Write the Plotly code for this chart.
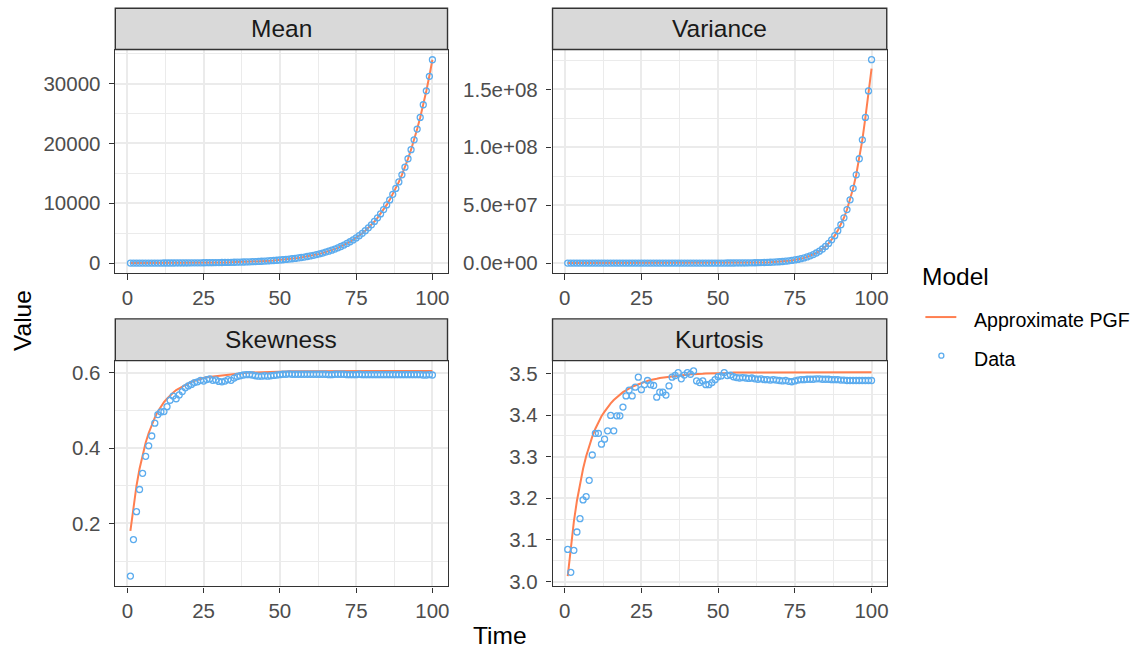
import plotly.graph_objects as go

W, H = 1144, 652

time = list(range(1, 101))

mean_model = [8.8, 9.57, 10.40, 11.30, 12.29, 13.35, 14.52, 15.78, 17.15, 18.64,
              20.27, 22.03, 23.95, 26.03, 28.30, 30.76, 33.44, 36.35, 39.51, 42.95,
              46.68, 50.74, 55.16, 59.95, 65.17, 70.84, 77.00, 83.70, 90.99, 98.90,
              107.5, 116.9, 127.0, 138.1, 150.1, 163.1, 177.3, 192.8, 209.5, 227.8,
              247.6, 269.1, 292.6, 318.0, 345.7, 375.7, 408.4, 444.0, 482.6, 524.6,
              570.2, 619.8, 673.7, 732.3, 796.1, 865.3, 940.6, 1022, 1111, 1208,
              1313, 1427, 1551, 1686, 1833, 1993, 2166, 2354, 2559, 2782,
              3024, 3287, 3573, 3884, 4222, 4589, 4988, 5422, 5894, 6407,
              6966, 7572, 8231, 8947, 9725, 10571, 11491, 12491, 13578, 14759,
              16043, 17439, 18956, 20605, 22398, 24346, 26465, 28767, 31270, 33990]

mean_data = [9, 10, 10, 11, 12, 13, 15, 16, 17, 19,
             20, 22, 24, 26, 28, 31, 33, 36, 40, 43,
             47, 51, 55, 60, 65, 71, 77, 84, 91, 99,
             108, 117, 127, 138, 150, 163, 177, 193, 210, 228,
             248, 269, 293, 318, 346, 376, 408, 444, 483, 525,
             570, 620, 674, 732, 796, 865, 941, 1022, 1111, 1208,
             1313, 1427, 1551, 1686, 1833, 1993, 2166, 2354, 2559, 2782,
             3024, 3287, 3573, 3884, 4222, 4589, 4988, 5422, 5894, 6407,
             6966, 7572, 8231, 8947, 9725, 10571, 11491, 12491, 13578, 14759,
             16043, 17439, 18956, 20605, 22398, 24346, 26465, 28790, 31210, 33980]

var_data = [11.77, 13.91, 16.43, 19.42, 22.94, 27.11, 32.03, 37.84, 44.71, 52.83,
            62.43, 73.77, 87.16, 102.98, 121.68, 143.78, 169.88, 200.73, 237.17, 280.24,
            331.2, 391.3, 462.4, 546.4, 645.5, 762.8, 901.2, 1064.9, 1258.2, 1486.7,
            1756.5, 2075.4, 2452.3, 2897.5, 3423.6, 4045.3, 4779.8, 5647.6, 6673.0, 7884.7,
            9317, 11009, 13007, 15369, 18160, 21457, 25353, 29956, 35395, 41822,
            49419, 58392, 68994, 81522, 96323, 113812, 134477, 158894, 187744, 221834,
            262130, 309726, 365962, 432417, 510922, 603697, 713305, 842818, 995841, 1176660,
            1.3904e6, 1.6429e6, 1.9412e6, 2.2936e6, 2.7101e6, 3.2021e6, 3.7835e6, 4.4705e6, 5.2822e6, 6.2413e6,
            7.375e6, 8.714e6, 1.0296e7, 1.2166e7, 1.4375e7, 1.6985e7, 2.0069e7, 2.3712e7, 2.8018e7, 3.3105e7,
            3.912e7, 4.622e7, 5.462e7, 6.453e7, 7.625e7, 9.009e7, 1.0645e8, 1.2578e8, 1.4862e8, 1.756e8]

var_model = [11.77, 13.91, 16.43, 19.42, 22.94, 27.11, 32.03, 37.84, 44.71, 52.83,
             62.43, 73.77, 87.16, 102.98, 121.68, 143.78, 169.88, 200.73, 237.17, 280.24,
             331.2, 391.3, 462.4, 546.4, 645.5, 762.8, 901.2, 1064.9, 1258.2, 1486.7,
             1756.5, 2075.4, 2452.3, 2897.5, 3423.6, 4045.3, 4779.8, 5647.6, 6673.0, 7884.7,
             9317, 11009, 13007, 15369, 18160, 21457, 25353, 29956, 35395, 41822,
             49419, 58392, 68994, 81522, 96323, 113812, 134477, 158894, 187744, 221834,
             262130, 309726, 365962, 432417, 510922, 603697, 713305, 842818, 995841, 1176660,
             1.3904e6, 1.6429e6, 1.9412e6, 2.2936e6, 2.7101e6, 3.2021e6, 3.7835e6, 4.4705e6, 5.2822e6, 6.2413e6,
             7.375e6, 8.714e6, 1.0296e7, 1.2166e7, 1.4375e7, 1.6985e7, 2.0069e7, 2.3712e7, 2.8018e7, 3.3105e7,
             3.912e7, 4.622e7, 5.462e7, 6.453e7, 7.625e7, 9.009e7, 1.0645e8, 1.2578e8, 1.470e8, 1.680e8]

skew_model = [0.180, 0.246, 0.300, 0.345, 0.383, 0.414, 0.440, 0.462, 0.481, 0.497,
              0.510, 0.522, 0.531, 0.540, 0.547, 0.554, 0.559, 0.564, 0.569, 0.572,
              0.576, 0.579, 0.581, 0.584, 0.586, 0.588, 0.589, 0.591, 0.592, 0.593,
              0.594, 0.595, 0.596, 0.597, 0.598, 0.5985, 0.599, 0.600, 0.600, 0.6006,
              0.601, 0.6013, 0.6017, 0.602, 0.6022, 0.6025, 0.6027, 0.6029, 0.6031, 0.6033,
              0.6034, 0.6036, 0.6037, 0.6038, 0.6039, 0.604, 0.6041, 0.6042, 0.6043, 0.6043,
              0.6044, 0.6044, 0.6045, 0.6045, 0.6046, 0.6046, 0.6046, 0.6047, 0.6047, 0.6047,
              0.6047, 0.6048, 0.6048, 0.6048, 0.6048, 0.6048, 0.6048, 0.6048, 0.6049, 0.6049,
              0.6049, 0.6049, 0.6049, 0.6049, 0.6049, 0.6049, 0.6049, 0.6049, 0.6049, 0.6049,
              0.6049, 0.6049, 0.6049, 0.6049, 0.6049, 0.6049, 0.6049, 0.6049, 0.6049, 0.6049]

skew_data = [0.060, 0.157, 0.231, 0.290, 0.333, 0.378, 0.406, 0.432, 0.466, 0.489,
             0.496, 0.497, 0.510, 0.527, 0.538, 0.531, 0.541, 0.550, 0.560, 0.565,
             0.569, 0.574, 0.576, 0.580, 0.578, 0.582, 0.584, 0.580, 0.581, 0.577,
             0.576, 0.578, 0.582, 0.580, 0.586, 0.590, 0.592, 0.594, 0.595, 0.595,
             0.594, 0.592, 0.591, 0.591, 0.592, 0.591, 0.592, 0.593, 0.594, 0.595,
             0.596, 0.596, 0.597, 0.596, 0.596, 0.596, 0.596, 0.596, 0.596, 0.596,
             0.596, 0.596, 0.596, 0.596, 0.596, 0.595, 0.595, 0.596, 0.596, 0.596,
             0.596, 0.595, 0.595, 0.595, 0.595, 0.596, 0.595, 0.595, 0.595, 0.595,
             0.595, 0.595, 0.595, 0.595, 0.595, 0.595, 0.595, 0.595, 0.595, 0.595,
             0.595, 0.595, 0.595, 0.595, 0.595, 0.595, 0.594, 0.594, 0.595, 0.594]

kurt_model = [3.013, 3.085, 3.144, 3.194, 3.236, 3.271, 3.301, 3.327, 3.348, 3.367,
              3.383, 3.397, 3.408, 3.419, 3.428, 3.436, 3.443, 3.449, 3.455, 3.459,
              3.464, 3.468, 3.471, 3.474, 3.477, 3.479, 3.482, 3.484, 3.485, 3.487,
              3.489, 3.490, 3.491, 3.492, 3.493, 3.494, 3.495, 3.496, 3.496, 3.497,
              3.498, 3.498, 3.498, 3.499, 3.499, 3.500, 3.500, 3.500, 3.500, 3.501,
              3.501, 3.501, 3.501, 3.501, 3.502, 3.502, 3.502, 3.502, 3.502, 3.502,
              3.502, 3.502, 3.502, 3.502, 3.502, 3.502, 3.503, 3.503, 3.503, 3.503,
              3.503, 3.503, 3.503, 3.503, 3.503, 3.503, 3.503, 3.503, 3.503, 3.503,
              3.503, 3.503, 3.503, 3.503, 3.503, 3.503, 3.503, 3.503, 3.503, 3.503,
              3.503, 3.503, 3.503, 3.503, 3.503, 3.503, 3.503, 3.503, 3.503, 3.503]

kurt_data = [3.077, 3.022, 3.075, 3.119, 3.151, 3.196, 3.204, 3.243, 3.304, 3.356,
             3.356, 3.330, 3.342, 3.362, 3.399, 3.362, 3.398, 3.398, 3.419, 3.446,
             3.460, 3.446, 3.467, 3.491, 3.461, 3.473, 3.483, 3.473, 3.471, 3.443,
             3.455, 3.455, 3.448, 3.470, 3.491, 3.495, 3.502, 3.487, 3.496, 3.502,
             3.498, 3.506, 3.482, 3.478, 3.482, 3.473, 3.473, 3.478, 3.485, 3.492,
             3.494, 3.502, 3.495, 3.496, 3.492, 3.490, 3.489, 3.490, 3.489, 3.488,
             3.489, 3.487, 3.486, 3.487, 3.485, 3.485, 3.484, 3.485, 3.484, 3.483,
             3.482, 3.483, 3.481, 3.480, 3.482, 3.484, 3.485, 3.485, 3.486, 3.486,
             3.486, 3.487, 3.487, 3.486, 3.486, 3.486, 3.485, 3.485, 3.485, 3.484,
             3.484, 3.483, 3.483, 3.483, 3.483, 3.483, 3.483, 3.483, 3.483, 3.483]

panel_titles = ["Mean", "Variance", "Skewness", "Kurtosis"]
x_ticks = [0, 25, 50, 75, 100]
x_minor = [12.5, 37.5, 62.5, 87.5]
mean_ticks = [0, 10000, 20000, 30000]
mean_minor = [5000, 15000, 25000, 35000]
var_ticks = [0, 5e7, 1e8, 1.5e8]
var_minor = [2.5e7, 7.5e7, 1.25e8, 1.75e8]
skew_ticks = [0.2, 0.4, 0.6]
skew_minor = [0.1, 0.3, 0.5]
kurt_ticks = [3.0, 3.1, 3.2, 3.3, 3.4, 3.5]
kurt_minor = [3.05, 3.15, 3.25, 3.35, 3.45]
legend_title = "Model"
legend_labels = ["Approximate PGF", "Data"]

LINE_COL = "#FF7F50"
PT_COL = "#5CACEE"
FONT = "Liberation Sans, Arial, Helvetica, sans-serif"
TICK_SIZE = 20.5
STRIP_SIZE = 24.5
LEG_SIZE = 19.6
TITLE_SIZE = 24.5

panels = [
    (mean_model, mean_data, mean_ticks, [str(int(v)) for v in mean_ticks], mean_minor),
    (var_model, var_data, var_ticks, [f"{v:.1e}" for v in var_ticks], var_minor),
    (skew_model, skew_data, skew_ticks, [f"{v:.1f}" for v in skew_ticks], skew_minor),
    (kurt_model, kurt_data, kurt_ticks, [f"{v:.1f}" for v in kurt_ticks], kurt_minor),
]

# panel pixel boxes (left, right, top, bottom) and strip tops
col_x = [(115.5, 448.3), (553.5, 888.3)]
row_y = [(50.0, 275.8), (364.0, 591.8)]
strip_top = [8.3, 321.8]


def fx(p):
    return p / W


def fy(p):
    return 1 - p / H


def expand(vals):
    lo, hi = min(vals), max(vals)
    r = hi - lo
    return [lo - 0.05 * r, hi + 0.05 * r]


fig = go.Figure()
shapes = []
annotations = []
axis_common = dict(
    showline=True, mirror=True, linecolor="#333333", linewidth=1.4,
    ticks="outside", ticklen=5.5, tickwidth=1.3, tickcolor="#333333",
    showgrid=True, gridcolor="#EBEBEB", gridwidth=2, zeroline=False,
    tickfont=dict(family=FONT, size=TICK_SIZE, color="#4D4D4D"),
)

for i, (model, data, yt, ytl, ymin) in enumerate(panels):
    r, c = divmod(i, 2)
    n = i + 1
    xa = "x" if n == 1 else f"x{n}"
    ya = "y" if n == 1 else f"y{n}"
    fig.add_trace(go.Scatter(x=time, y=model, mode="lines", xaxis=xa, yaxis=ya,
                             line=dict(color=LINE_COL, width=2), showlegend=False,
                             name=legend_labels[0]))
    fig.add_trace(go.Scatter(x=time, y=data, mode="markers", xaxis=xa, yaxis=ya,
                             marker=dict(symbol="circle-open", size=6, color=PT_COL,
                                         line=dict(width=1.3, color=PT_COL)),
                             showlegend=False, name=legend_labels[1]))
    x0, x1 = col_x[c]
    y0, y1 = row_y[r]
    xkey = "xaxis" if n == 1 else f"xaxis{n}"
    ykey = "yaxis" if n == 1 else f"yaxis{n}"
    fig.update_layout(**{
        xkey: dict(axis_common, domain=[fx(x0), fx(x1)], anchor=ya,
                   range=expand(time), tickmode="array", tickvals=x_ticks,
                   ticktext=[str(v) for v in x_ticks], ticklabelstandoff=0,
                   minor=dict(tickmode="array", tickvals=x_minor, showgrid=True,
                              gridcolor="#EBEBEB", gridwidth=1, ticks="")),
        ykey: dict(axis_common, domain=[fy(y1), fy(y0)], anchor=xa,
                   range=expand(list(model) + list(data)), tickmode="array",
                   tickvals=yt, ticktext=ytl, ticklabelstandoff=4,
                   minor=dict(tickmode="array", tickvals=ymin, showgrid=True,
                              gridcolor="#EBEBEB", gridwidth=1, ticks="")),
    })
    # strip
    st = strip_top[r]
    shapes.append(dict(type="rect", xref="paper", yref="paper",
                       x0=fx(x0), x1=fx(x1), y0=fy(y0), y1=fy(st),
                       fillcolor="#D9D9D9", line=dict(color="#333333", width=1.4),
                       layer="above"))
    annotations.append(dict(text=panel_titles[i], xref="paper", yref="paper",
                            x=fx((x0 + x1) / 2), y=fy((st + y0) / 2),
                            xanchor="center", yanchor="middle", showarrow=False,
                            font=dict(family=FONT, size=STRIP_SIZE, color="#1A1A1A")))

# axis titles
annotations.append(dict(text="Time", xref="paper", yref="paper", x=fx(501), y=fy(641),
                        xanchor="center", yanchor="middle", showarrow=False,
                        font=dict(family=FONT, size=TITLE_SIZE, color="#000000")))
annotations.append(dict(text="Value", xref="paper", yref="paper", x=fx(22), y=fy(323),
                        xanchor="center", yanchor="middle", showarrow=False, textangle=-90,
                        font=dict(family=FONT, size=TITLE_SIZE, color="#000000")))

# legend
annotations.append(dict(text=legend_title, xref="paper", yref="paper", x=fx(922), y=fy(279),
                        xanchor="left", yanchor="middle", showarrow=False,
                        font=dict(family=FONT, size=TITLE_SIZE, color="#000000")))
annotations.append(dict(text=legend_labels[0], xref="paper", yref="paper", x=fx(974), y=fy(322.5),
                        xanchor="left", yanchor="middle", showarrow=False,
                        font=dict(family=FONT, size=LEG_SIZE, color="#000000")))
annotations.append(dict(text=legend_labels[1], xref="paper", yref="paper", x=fx(974), y=fy(362),
                        xanchor="left", yanchor="middle", showarrow=False,
                        font=dict(family=FONT, size=LEG_SIZE, color="#000000")))
shapes.append(dict(type="line", xref="paper", yref="paper", x0=fx(927), x1=fx(958),
                   y0=fy(320), y1=fy(320), line=dict(color=LINE_COL, width=2)))
shapes.append(dict(type="circle", xref="paper", yref="paper", xsizemode="pixel",
                   ysizemode="pixel", xanchor=fx(943), yanchor=fy(359),
                   x0=-2.5, x1=2.5, y0=-2.5, y1=2.5,
                   line=dict(color=PT_COL, width=1.3)))

fig.update_layout(width=W, height=H, margin=dict(l=0, r=0, t=0, b=0),
                  paper_bgcolor="white", plot_bgcolor="white",
                  shapes=shapes, annotations=annotations, showlegend=False,
                  font=dict(family=FONT))

fig.write_html("out.html", config={"displayModeBar": False},
               post_script="document.body.style.margin='0';document.body.style.padding='0';")
